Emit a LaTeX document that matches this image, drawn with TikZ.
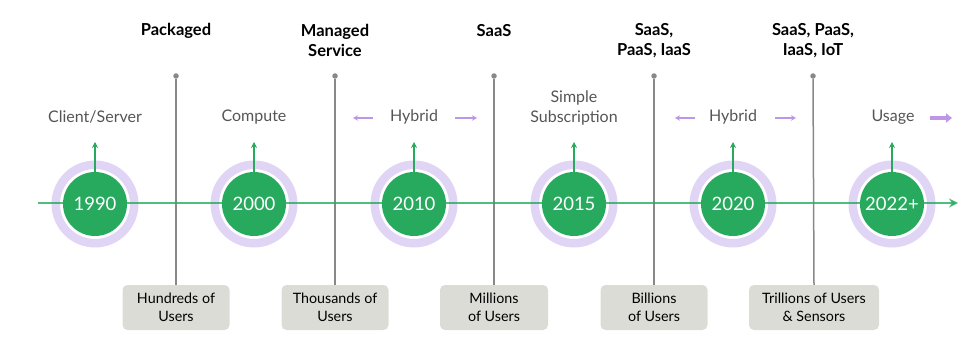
\documentclass[tikz,border=0pt]{standalone}
\usepackage{fontspec}
\setmainfont{Lato}
\usetikzlibrary{arrows.meta}
\definecolor{tgreen}{RGB}{39,170,94}
\definecolor{tring}{RGB}{225,213,245}
\definecolor{tpurple}{RGB}{190,150,232}
\definecolor{tgray}{RGB}{136,136,136}
\definecolor{tbox}{RGB}{220,220,214}
\definecolor{tlabel}{RGB}{85,85,85}
\tikzset{
  year/.style={circle, fill=tgreen, minimum size=64pt, inner sep=0pt, text=white, font=\fontsize{18.5}{20}\selectfont},
  ring/.style={draw=tring, line width=8.5pt},
  uparrow/.style={draw=tgreen, line width=1.3pt, -{Stealth[length=6pt,width=6pt]}},
  dot/.style={circle, fill=tgray, minimum size=5.5pt, inner sep=0pt},
  vline/.style={draw=tgray, line width=1.5pt},
  userbox/.style={fill=tbox, rounded corners=5pt, minimum height=45pt, align=center, font=\fontsize{14.3}{17.5}\selectfont, text=black},
  era/.style={align=center, font=\fontsize{16}{19.5}\selectfont, text=tlabel},
  model/.style={align=center, font=\bfseries\fontsize{16.5}{20}\selectfont, text=black},
  hyb/.style={draw=tpurple, line width=1.2pt, -{Stealth[length=5pt,width=5.5pt]}},
  usagearrow/.style={draw=tpurple, line width=3.5pt, -{Triangle[length=6pt,width=9pt]}}
}
\begin{document}
\begin{tikzpicture}[x=1pt,y=-1pt]
\useasboundingbox (0,0) rectangle (980,358);
% rings
\foreach \x in {95,254,414,574,733,892}{
  \draw[ring] (\x,204) circle (39.25);
}
% timeline
\coordinate (tstart) at (38,203);
\coordinate (tend) at (958,203);
% gray vertical lines with dots and boxes
\node[dot] (d1) at (176,76) {};
\node[dot] (d2) at (335,76) {};
\node[dot] (d3) at (494,76) {};
\node[dot] (d4) at (654,76) {};
\node[dot] (d5) at (813,76) {};
\node[userbox, minimum width=107pt] (b1) at (176,307.5) {Hundreds of\\Users};
\node[userbox, minimum width=107pt] (b2) at (335,307.5) {Thousands of\\Users};
\node[userbox, minimum width=108pt] (b3) at (494,307.5) {Millions\\of Users};
\node[userbox, minimum width=107pt] (b4) at (654,307.5) {Billions\\of Users};
\node[userbox, minimum width=130pt] (b5) at (814,307.5) {Trillions of Users\\\& Sensors};
\foreach \i in {1,...,5}{
  \draw[vline] (d\i) -- (b\i.north);
}
\draw[draw=tgreen, line width=2.5pt, -{Stealth[length=9pt,width=9pt]}, opacity=0.8] (tstart) -- (tend);
% year circles
\node[year] (c1) at (95,204) {1990};
\node[year] (c2) at (254,204) {2000};
\node[year] (c3) at (414,204) {2010};
\node[year] (c4) at (574,204) {2015};
\node[year] (c5) at (733,204) {2020};
\node[year] (c6) at (892,204) {2022+};
% up arrows
\coordinate (u1) at (95,142);
\coordinate (u2) at (254,142);
\coordinate (u3) at (414,142);
\coordinate (u4) at (574,142);
\coordinate (u5) at (733,142);
\coordinate (u6) at (892,142);
\foreach \i in {1,...,6}{
  \draw[uparrow] (c\i.north) -- (u\i);
}
% era labels
\node[era] (e1) at (95,117) {Client/Server};
\node[era] (e2) at (254,117) {Compute};
\node[era] (e3) at (414,117) {Hybrid};
\node[era] (e4) at (574,108) {Simple\\Subscription};
\node[era] (e5) at (733,117) {Hybrid};
\node[era] (e6) at (893,117) {Usage};
% hybrid arrows
\coordinate (h1a) at (373,118); \coordinate (h1b) at (353,118);
\coordinate (h2a) at (455,118); \coordinate (h2b) at (477,118);
\coordinate (h3a) at (695,118); \coordinate (h3b) at (675,118);
\coordinate (h4a) at (775,118); \coordinate (h4b) at (796,118);
\draw[hyb] (h1a) -- (h1b);
\draw[hyb] (h2a) -- (h2b);
\draw[hyb] (h3a) -- (h3b);
\draw[hyb] (h4a) -- (h4b);
\coordinate (ua) at (930,118); \coordinate (ub) at (952,118);
\draw[usagearrow] (ua) -- (ub);
% model labels
\node[model] (m1) at (176,31) {Packaged};
\node[model] (m2) at (335,40.5) {Managed\\Service};
\node[model] (m3) at (494,31) {SaaS};
\node[model] (m4) at (654,40.5) {SaaS,\\PaaS, IaaS};
\node[model] (m5) at (813,40.5) {SaaS, PaaS,\\IaaS, IoT};
\end{tikzpicture}
\end{document}
